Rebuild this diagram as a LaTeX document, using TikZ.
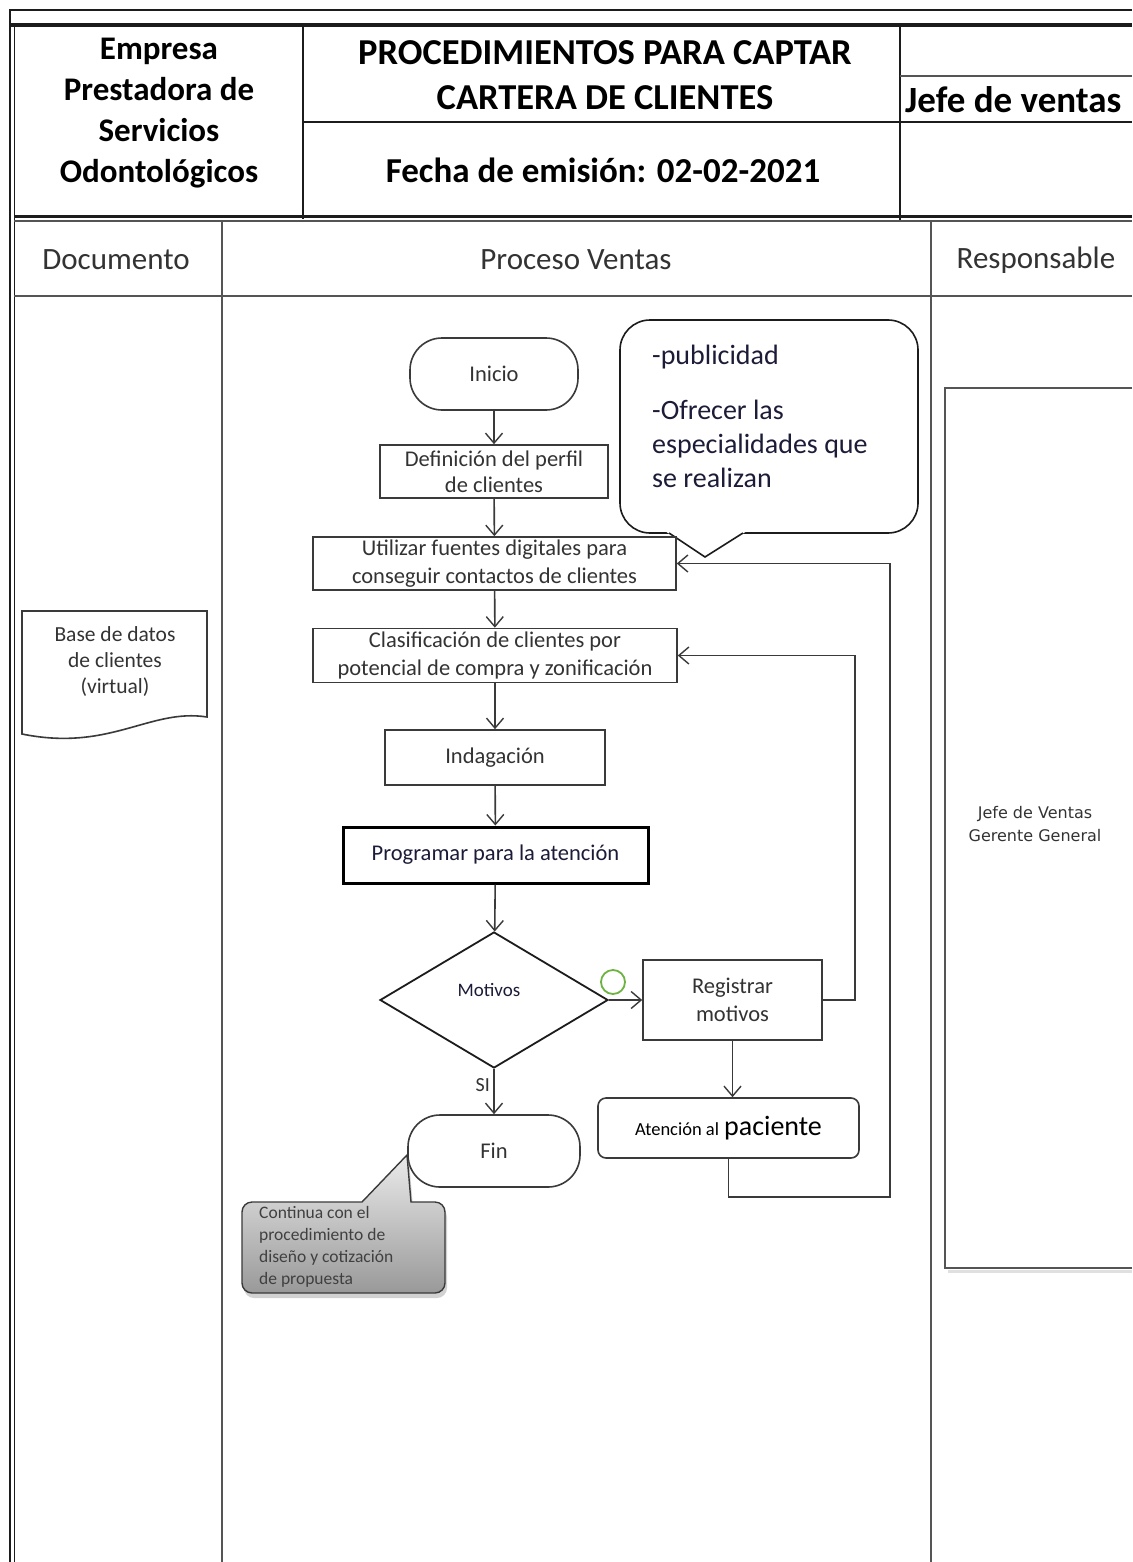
\documentclass[tikz,border=0pt]{standalone}
\usepackage{fontspec}
\setmainfont{Carlito}
\newfontfamily\wideface{DejaVu Sans}
\usetikzlibrary{arrows.meta,shapes.geometric,shadows,calc}
\definecolor{frame}{HTML}{1C1C1C}
\definecolor{rulegray}{HTML}{555555}
\definecolor{flow}{HTML}{3A3A3A}
\definecolor{ink}{HTML}{333333}
\definecolor{navy}{HTML}{1C1C38}
\definecolor{okgreen}{HTML}{6DB33F}
\newcommand{\fsz}[2]{\fontsize{#1}{#2}\selectfont}
\begin{document}
\begin{tikzpicture}[x=1pt,y=-1pt,
  outer/.style={draw=frame,line width=2.6pt},
  inner/.style={draw=frame,line width=1.6pt},
  lane/.style={draw=rulegray,line width=1.8pt},
  stepbox/.style={draw=flow,line width=1.6pt,fill=white,align=center,inner sep=0pt,
    font=\fsz{22.5}{28},text=ink},
  termbox/.style={stepbox,rounded corners=32pt},
  flowline/.style={draw=flow,line width=1.6pt},
  arrowline/.style={flowline,-{Straight Barb[length=10pt,width=17pt,line width=1.4pt]}},
  headtext/.style={align=center,text=black,font=\bfseries},
  colhead/.style={text=ink,font=\fsz{31}{36}},
]
\useasboundingbox (0,0) rectangle (1132,1562);
\fill[white] (0,0) rectangle (1132,1562);

% ---------- header block ----------
\draw[outer] (10,1562) -- (10,10) -- (1132,10);
\draw[draw=frame,line width=3.4pt] (10,25) -- (1132,25);
\draw[inner] (14.5,25) -- (14.5,1562);
\draw[draw=frame,line width=2.4pt] (303,25) -- (303,219);
\draw[draw=frame,line width=2.6pt] (900,25) -- (900,220);
\draw[draw=frame,line width=2.2pt] (303,122) -- (1132,122);
\draw[draw=rulegray,line width=1.6pt] (900,76) -- (1132,76);
\draw[draw=frame,line width=2.2pt] (14,216.5) -- (1132,216.5);
\draw[draw=rulegray,line width=1.6pt] (14,221) -- (1132,221);

\node[headtext,font=\bfseries\fsz{33}{41}] (company) at (159,113)
  {Empresa\\Prestadora de\\Servicios\\Odontológicos};
\node[headtext,font=\bfseries\fsz{36.5}{45}] (title) at (605,75.5)
  {PROCEDIMIENTOS PARA CAPTAR\\CARTERA DE CLIENTES};
\node[headtext,font=\bfseries\fsz{35}{40}] (issued) at (603,170)
  {Fecha de emisión: 02-02-2021};
\node[headtext,font=\bfseries\fsz{37}{42},anchor=west,inner sep=0pt] (owner) at (905,100)
  {Jefe de ventas};

% ---------- lanes ----------
\draw[lane] (14,296) -- (1132,296);
\draw[lane] (222,221) -- (222,1562);
\draw[lane] (931,221) -- (931,1562);
\node[colhead] (hdoc) at (116,260) {Documento};
\node[colhead] (hproc) at (576,260) {Proceso Ventas};
\node[colhead] (hresp) at (1036,260) {Responsable};

% ---------- document lane ----------
\draw[draw=flow,line width=1.6pt,fill=white]
  (22,611) -- (207,611) -- (207,717)
  .. controls (150,708) and (110,752) .. (22,734) -- cycle;
\node[align=center,text=ink,font=\fsz{21.5}{26}] (db) at (115,662)
  {Base de datos\\de clientes\\(virtual)};

% ---------- responsible lane ----------
\draw[draw=black!12,line width=3pt] (1132,1271) -- (948,1271);
\draw[draw=rulegray,line width=1.4pt] (1132,388) -- (945,388) -- (945,1268) -- (1132,1268);
\node[align=center,text=ink,font=\wideface\fsz{16}{23}] (who) at (1035,824)
  {Jefe de Ventas\\Gerente General};

% ---------- note above the flow ----------
\draw[draw=frame,line width=1.6pt,fill=white,rounded corners=30pt]
  (620,320) rectangle (918,533);
\fill[white] (664,530.5) -- (748,530.5) -- (705,556) -- cycle;
\draw[draw=frame,line width=1.6pt] (669,533) -- (705,557) -- (743,533);
\node[anchor=north west,align=left,text=navy,inner sep=0pt,font=\fsz{28}{34}] (note) at (652,345)
  {-publicidad\\[21pt]-Ofrecer las\\especialidades que\\se realizan};

% ---------- flow ----------
\node[termbox,minimum width=168pt,minimum height=72pt] (start) at (494,374) {Inicio};
\node[stepbox,minimum width=228pt,minimum height=53pt,font=\fsz{22.5}{26}] (profile) at (494,471.5)
  {Definición del perfil\\de clientes};
\node[stepbox,minimum width=363pt,minimum height=53pt] (sources) at (494.5,563.5)
  {Utilizar fuentes digitales para\\conseguir contactos de clientes};
\node[stepbox,minimum width=364pt,minimum height=54pt] (classify) at (495,655.5)
  {Clasificación de clientes por\\potencial de compra y zonificación};
\node[stepbox,minimum width=220pt,minimum height=55pt] (inquiry) at (495,757.5) {Indagación};
\node[stepbox,minimum width=305pt,minimum height=56pt,line width=3pt,draw=black,text=navy] (plan) at (495.5,855)
  {Programar para la atención};
\node[diamond,draw=frame,line width=1.8pt,fill=white,inner sep=0pt,
  minimum width=228pt,minimum height=136pt] (reasons) at (494,1000) {};
\node[text=navy,font=\fsz{19}{22}] (reasonslbl) at (489,990) {Motivos};
\node[stepbox,minimum width=179pt,minimum height=80pt] (record) at (732.5,1000)
  {Registrar\\motivos};
\node[stepbox,rounded corners=8pt,minimum width=261pt,minimum height=60pt,text=black] (care) at (728.5,1128)
  {{\fsz{18.5}{20}Atención al} {\fsz{28}{30}paciente}};
\node[termbox,minimum width=172pt,minimum height=72pt] (finish) at (494,1151) {Fin};

\draw[draw=okgreen,line width=1.8pt] (613,982) circle (12pt);

% connectors
\draw[arrowline] (start) -- (profile);
\draw[arrowline] (profile) -- (sources);
\draw[arrowline] (sources) -- (classify);
\draw[arrowline] (classify) -- (inquiry);
\draw[arrowline] (inquiry) -- (plan);
\draw[arrowline] (plan) -- (reasons);
\draw[arrowline] (reasons.east) -- (record.west);
\draw[arrowline] (reasons.south) -- node[left,text=ink,font=\fsz{20}{22},pos=0.35] {SI} (finish.north);
\draw[arrowline] (record.south) -- (record.south |- care.north);
\coordinate (loopA) at (855,800);
\coordinate (loopB) at (890,1197);
\draw[arrowline] (record.east) -- (record.east -| loopA) -- (loopA |- classify.east) -- (classify.east);
\draw[arrowline] (care.south) -- (care.south |- loopB) -- (loopB) -- (loopB |- sources.east) -- (sources.east);

% ---------- note at the end ----------
\path[draw=flow,line width=1.4pt,top color=black!8,bottom color=black!40,
  drop shadow={shadow xshift=2pt,shadow yshift=-5pt,opacity=0.35}]
  (252,1202) -- (362,1202) -- (407,1155) -- (411,1202) -- (435,1202)
  arc[start angle=90,end angle=0,radius=10pt] -- (445,1283)
  arc[start angle=0,end angle=-90,radius=10pt] -- (252,1293)
  arc[start angle=270,end angle=180,radius=10pt] -- (242,1212)
  arc[start angle=180,end angle=90,radius=10pt] -- cycle;
\node[anchor=north west,align=left,inner sep=0pt,text=black!75,font=\fsz{17.5}{22}] (nextstep) at (259,1206)
  {Continua con el\\procedimiento de\\diseño y cotización\\de propuesta};
\end{tikzpicture}
\end{document}
